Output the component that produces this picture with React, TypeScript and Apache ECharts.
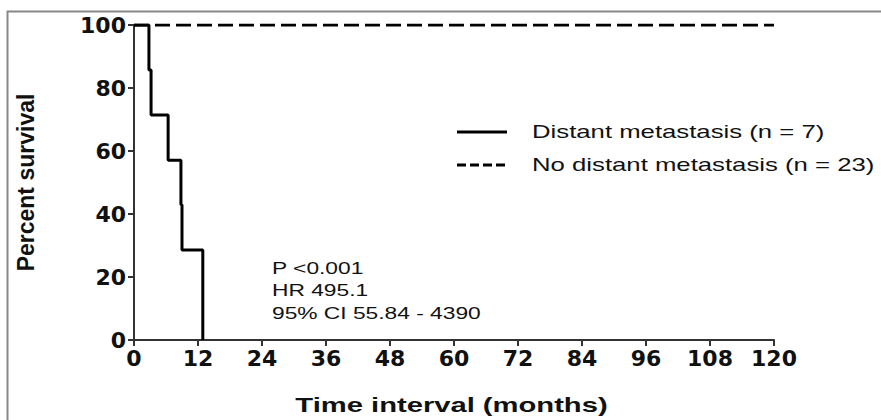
import React, { useEffect, useRef } from "react";
import * as echarts from "echarts";

const timesDistant = [0, 2.8, 3.2, 6.4, 8.8, 9.0, 12.9];
const survivalDistant = [100, 85.7, 71.4, 57.1, 42.9, 28.6, 0];
const timesNoDistant = [0, 120];
const survivalNoDistant = [100, 100];
const seriesNames = ["Distant metastasis (n = 7)", "No distant metastasis (n = 23)"];
const statLines = ["P <0.001", "HR 495.1", "95% CI 55.84 - 4390"];
const xTitle = "Time interval (months)";
const yTitle = "Percent survival";

export default function App() {
  const ref = useRef<HTMLDivElement>(null);
  useEffect(() => {
    if (!ref.current) return;
    const chart = echarts.init(ref.current, undefined, { renderer: "svg" });
    const font = "Liberation Sans, Arial, sans-serif";
    const tickFont = "DejaVu Sans, sans-serif";
    chart.setOption({
      animation: false,
      backgroundColor: "#ffffff",
      grid: { left: 134, right: 107, top: 25, bottom: 80 },
      xAxis: {
        type: "value",
        min: 0,
        max: 120,
        interval: 12,
        axisLine: { lineStyle: { color: "#333", width: 2 } },
        axisTick: { length: 6, lineStyle: { color: "#333", width: 2 } },
        axisLabel: { fontFamily: tickFont, fontWeight: "bold", fontSize: 22, color: "#111", margin: 7 },
        splitLine: { show: false },
      },
      yAxis: {
        type: "value",
        min: 0,
        max: 100,
        interval: 20,
        name: yTitle,
        nameLocation: "middle",
        nameGap: 97,
        nameTextStyle: { fontFamily: font, fontWeight: "bold", fontSize: 23, color: "#111" },
        axisLine: { show: true, lineStyle: { color: "#333", width: 2 } },
        axisTick: { show: true, length: 6, lineStyle: { color: "#333", width: 2 } },
        axisLabel: { fontFamily: tickFont, fontWeight: "bold", fontSize: 22, color: "#111", margin: 8 },
        splitLine: { show: false },
      },
      series: [
        {
          name: seriesNames[0],
          type: "line",
          step: "end",
          showSymbol: false,
          lineStyle: { color: "#000", width: 3 },
          data: timesDistant.map((t, i) => [t, survivalDistant[i]]),
          z: 3,
        },
        {
          name: seriesNames[1],
          type: "line",
          showSymbol: false,
          lineStyle: { color: "#000", width: 3, type: [15, 6] },
          data: timesNoDistant.map((t, i) => [t, survivalNoDistant[i]]),
          z: 2,
        },
      ],
      graphic: [
        {
          type: "rect",
          shape: { x: 7.5, y: 11.5, width: 900, height: 440 },
          style: { fill: "none", stroke: "#888", lineWidth: 2 },
          silent: true,
        },
        {
          type: "text",
          x: 451.5,
          y: 405,
          scaleX: 1.39,
          style: {
            text: xTitle,
            fontFamily: font,
            fontWeight: "bold",
            fontSize: 21,
            fill: "#111",
            textAlign: "center",
            verticalAlign: "middle",
          },
        },
        {
          type: "line",
          shape: { x1: 457, y1: 132, x2: 507, y2: 132 },
          style: { stroke: "#000", lineWidth: 3 },
        },
        {
          type: "text",
          x: 532,
          y: 132,
          scaleX: 1.43,
          style: { text: seriesNames[0], fontFamily: font, fontSize: 18, fill: "#111", verticalAlign: "middle" },
        },
        {
          type: "line",
          shape: { x1: 457, y1: 165, x2: 507, y2: 165 },
          style: { stroke: "#000", lineWidth: 3, lineDash: [9, 4] },
        },
        {
          type: "text",
          x: 532,
          y: 165,
          scaleX: 1.43,
          style: { text: seriesNames[1], fontFamily: font, fontSize: 18, fill: "#111", verticalAlign: "middle" },
        },
        ...statLines.map((s, i) => ({
          type: "text",
          x: 272,
          y: 268 + i * 22.5,
          scaleX: 1.34,
          style: { text: s, fontFamily: font, fontSize: 17, fill: "#111", verticalAlign: "middle" },
        })),
      ],
    });
    return () => chart.dispose();
  }, []);
  return (
    <div
      ref={ref}
      style={{ position: "absolute", left: 0, top: 0, width: 881, height: 420 }}
    />
  );
}
